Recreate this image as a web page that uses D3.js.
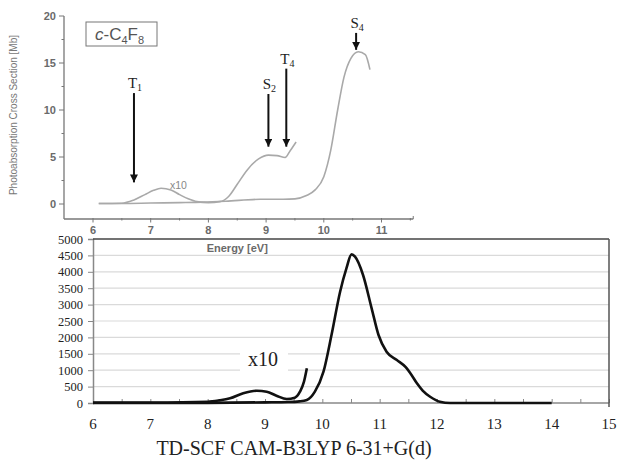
<!DOCTYPE html>
<html>
<head>
<meta charset="utf-8">
<script src="https://cdn.jsdelivr.net/npm/d3@7"></script>
<style>
  body { margin: 0; background: white; }
  .serif { font-family: 'Liberation Serif', 'Times New Roman', serif; fill: #222; }
  .sans { font-family: 'Liberation Sans', Arial, sans-serif; fill: #6a6a6a; font-weight: bold; }
</style>
</head>
<body>
<svg id="chart" width="617" height="468"></svg>
<script>
var svg = d3.select('#chart');

// upper panel (measured spectrum), energy in eV / cross section in Mb
var expMainEnergy = [6.1, 6.5, 7.0, 7.5, 7.9, 8.3, 8.9, 9.3, 9.5, 9.7, 9.85, 10.0, 10.12, 10.24, 10.35, 10.47, 10.6, 10.72, 10.8];
var expMainValue  = [0.05, 0.05, 0.1, 0.15, 0.2, 0.3, 0.5, 0.5, 0.55, 0.9, 1.5, 2.9, 5.7, 10, 13.5, 15.5, 16.2, 15.9, 14.3];
var expX10Energy  = [6.1, 6.5, 6.7, 6.9, 7.05, 7.18, 7.35, 7.5, 7.65, 7.8, 8.0, 8.2, 8.35, 8.5, 8.67, 8.87, 9.04, 9.19, 9.33, 9.42, 9.52];
var expX10Value   = [0.05, 0.08, 0.4, 1.0, 1.45, 1.67, 1.5, 1.0, 0.55, 0.25, 0.15, 0.25, 0.8, 2.1, 3.6, 4.8, 5.2, 5.15, 4.95, 5.7, 6.6];
var expTicksX = [6, 7, 8, 9, 10, 11];
var expTicksY = [0, 5, 10, 15, 20];

// transitions marked with arrows
var arrowNames  = ['T', 'S', 'T', 'S'];
var arrowSubs   = ['1', '2', '4', '4'];
var arrowEnergy = [6.71, 9.04, 9.35, 10.56];
var arrowTop    = [11.8, 11.7, 14.4, 18.2];
var arrowTip    = [2.3, 6.1, 6.1, 16.4];

// lower panel (TD-SCF CAM-B3LYP)
var calcMainEnergy = [6, 7, 8, 9, 9.4, 9.6, 9.73, 9.87, 10.02, 10.16, 10.31, 10.42, 10.51, 10.57, 10.71, 10.86, 10.98, 11.12, 11.3, 11.45, 11.55, 11.65, 11.75, 11.88, 12.05, 12.23, 13, 14];
var calcMainValue  = [0, 0, 5, 20, 30, 50, 91, 345, 955, 2073, 3394, 4107, 4530, 4460, 3902, 2887, 2073, 1564, 1311, 1100, 870, 600, 380, 192, 40, 0, 0, 0];
var calcX10Energy  = [6, 7, 8, 8.2, 8.39, 8.62, 8.86, 9.03, 9.2, 9.38, 9.52, 9.61, 9.68, 9.73];
var calcX10Value   = [10, 15, 40, 80, 143, 296, 375, 345, 223, 122, 162, 345, 650, 1058];
var calcTicksX = [6, 7, 8, 9, 10, 11, 12, 13, 14, 15];
var calcTicksY = [0, 500, 1000, 1500, 2000, 2500, 3000, 3500, 4000, 4500, 5000];

function series(xs, ys) {
  return xs.map((x, i) => [x, ys[i]]);
}

// ---------- lower panel ----------
var xB = d3.scaleLinear().domain([6, 15]).range([93, 609]);
var yB = d3.scaleLinear().domain([0, 5000]).range([403, 239]);

svg.append('g')
  .selectAll('line')
  .data(calcTicksY.slice(1, -1))
  .enter()
  .append('line')
    .attr('x1', xB(6))
    .attr('x2', xB(15))
    .attr('y1', d => yB(d))
    .attr('y2', d => yB(d))
    .attr('stroke', '#dadada')
    .attr('stroke-width', 1.2);

var yAxisB = svg.append('g')
  .attr('transform', `translate(${xB(6)},0)`)
  .call(d3.axisLeft(yB).tickValues(calcTicksY).tickFormat(d3.format('d')).tickSize(5).tickPadding(5));
yAxisB.select('.domain').attr('stroke', '#888').attr('stroke-width', 1.5);
yAxisB.selectAll('.tick line').attr('stroke', '#888');
yAxisB.selectAll('text')
  .attr('class', 'serif')
  .style('font-size', '12.5px');

var xAxisB = svg.append('g')
  .attr('transform', `translate(0,${yB(0)})`)
  .call(d3.axisTop(xB).ticks(18).tickSize(4).tickFormat(''));
xAxisB.select('.domain').remove();
xAxisB.selectAll('.tick line').attr('stroke', '#888');

svg.append('g')
  .selectAll('text')
  .data(calcTicksX)
  .enter()
  .append('text')
    .classed('serif', true)
    .attr('x', d => xB(d))
    .attr('y', 429)
    .attr('text-anchor', 'middle')
    .style('font-size', '15px')
    .text(d => d);

svg.append('line')
  .attr('x1', xB(6)).attr('x2', xB(15))
  .attr('y1', yB(0)).attr('y2', yB(0))
  .attr('stroke', '#888').attr('stroke-width', 1.5);
svg.append('line')
  .attr('x1', xB(6)).attr('x2', xB(15))
  .attr('y1', yB(5000)).attr('y2', yB(5000))
  .attr('stroke', '#444').attr('stroke-width', 1.5);
svg.append('line')
  .attr('x1', xB(15)).attr('x2', xB(15))
  .attr('y1', yB(5000)).attr('y2', yB(0) + 4)
  .attr('stroke', '#555').attr('stroke-width', 1.5);

var lineB = d3.line()
  .x(d => xB(d[0]))
  .y(d => yB(d[1]))
  .curve(d3.curveMonotoneX);

// label box for the x10 trace
svg.append('rect')
  .attr('x', 240).attr('y', 343)
  .attr('width', 48).attr('height', 30)
  .attr('fill', 'white');
svg.append('text')
  .classed('serif', true)
  .attr('x', 248)
  .attr('y', 366)
  .style('font-size', '20px')
  .text('x10');

svg.append('path')
  .datum(series(calcX10Energy, calcX10Value))
  .attr('d', lineB)
  .attr('fill', 'none')
  .attr('stroke', '#111')
  .attr('stroke-width', 2.6);

svg.append('path')
  .datum(series(calcMainEnergy, calcMainValue))
  .attr('d', lineB)
  .attr('fill', 'none')
  .attr('stroke', '#111')
  .attr('stroke-width', 2.6);

svg.append('text')
  .classed('serif', true)
  .attr('x', 294)
  .attr('y', 455)
  .attr('text-anchor', 'middle')
  .style('font-size', '20px')
  .text('TD-SCF CAM-B3LYP 6-31+G(d)');

// ---------- upper panel ----------
var xT = d3.scaleLinear().domain([6, 11]).range([93, 381.5]);
var yT = d3.scaleLinear().domain([0, 20]).range([204, 16]);
var axisY = 219;

svg.append('line')
  .attr('x1', 64).attr('x2', xT(11.55))
  .attr('y1', axisY).attr('y2', axisY)
  .attr('stroke', '#777').attr('stroke-width', 1.3);
svg.append('line')
  .attr('x1', 64).attr('x2', 64)
  .attr('y1', yT(20)).attr('y2', axisY)
  .attr('stroke', '#777').attr('stroke-width', 1.3);

svg.append('g')
  .selectAll('line')
  .data(d3.range(6, 11.51, 0.5))
  .enter()
  .append('line')
    .attr('x1', d => xT(d)).attr('x2', d => xT(d))
    .attr('y1', axisY - 1)
    .attr('y2', d => axisY + (d % 1 ? 1.5 : 3.5))
    .attr('stroke', '#777');
svg.append('line')
  .attr('x1', xT(11.55)).attr('x2', xT(11.55))
  .attr('y1', axisY - 3).attr('y2', axisY)
  .attr('stroke', '#777');

svg.append('g')
  .selectAll('line')
  .data(d3.range(0, 20.1, 2.5))
  .enter()
  .append('line')
    .attr('x1', d => 64 - (d % 5 ? 2.5 : 5)).attr('x2', 64)
    .attr('y1', d => yT(d)).attr('y2', d => yT(d))
    .attr('stroke', '#777');

svg.append('g')
  .selectAll('text')
  .data(expTicksY)
  .enter()
  .append('text')
    .classed('sans', true)
    .attr('x', 56)
    .attr('y', d => yT(d) + 4)
    .attr('text-anchor', 'end')
    .style('font-size', '11px')
    .text(d => d);

svg.append('g')
  .selectAll('text')
  .data(expTicksX)
  .enter()
  .append('text')
    .classed('sans', true)
    .attr('x', d => xT(d))
    .attr('y', 234)
    .attr('text-anchor', 'middle')
    .style('font-size', '11px')
    .text(d => d);

svg.append('text')
  .classed('sans', true)
  .attr('x', xT(8.5))
  .attr('y', 252)
  .attr('text-anchor', 'middle')
  .style('font-size', '11px')
  .text('Energy [eV]');

svg.append('text')
  .attr('transform', 'translate(17,115) rotate(-90)')
  .attr('text-anchor', 'middle')
  .style('font-family', "'Liberation Sans', Arial, sans-serif")
  .style('font-size', '10px')
  .style('fill', '#777')
  .text('Photoabsorption Cross Section [Mb]');

var lineT = d3.line()
  .x(d => xT(d[0]))
  .y(d => yT(d[1]))
  .curve(d3.curveMonotoneX);

svg.append('path')
  .datum(series(expMainEnergy, expMainValue))
  .attr('d', lineT)
  .attr('fill', 'none')
  .attr('stroke', '#a9a9a9')
  .attr('stroke-width', 1.6);

svg.append('path')
  .datum(series(expX10Energy, expX10Value))
  .attr('d', lineT)
  .attr('fill', 'none')
  .attr('stroke', '#a9a9a9')
  .attr('stroke-width', 1.6);

svg.append('text')
  .classed('sans', true)
  .attr('x', 170)
  .attr('y', 189)
  .style('font-size', '10.5px')
  .style('font-weight', 'normal')
  .style('fill', '#888')
  .text('x10');

// legend box
svg.append('rect')
  .attr('x', 86).attr('y', 22)
  .attr('width', 71).attr('height', 24)
  .attr('fill', 'white')
  .attr('stroke', '#777');
var leg = svg.append('text')
  .attr('x', 95)
  .attr('y', 40)
  .style('font-family', "'Liberation Sans', Arial, sans-serif")
  .style('font-size', '17px')
  .style('fill', '#555');
leg.append('tspan').style('font-style', 'italic').text('c');
leg.append('tspan').text('-C');
leg.append('tspan').attr('dy', 4).style('font-size', '11px').text('4');
leg.append('tspan').attr('dy', -4).text('F');
leg.append('tspan').attr('dy', 4).style('font-size', '11px').text('8');

// arrows
svg.append('defs')
  .append('marker')
    .attr('id', 'head')
    .attr('viewBox', '0 0 10 10')
    .attr('refX', 10).attr('refY', 5)
    .attr('markerWidth', 4).attr('markerHeight', 4)
    .attr('orient', 'auto')
  .append('path')
    .attr('d', 'M0,0L10,5L0,10Z')
    .attr('fill', '#111');

arrowEnergy.forEach((e, i) => {
  svg.append('line')
    .attr('x1', xT(e)).attr('x2', xT(e))
    .attr('y1', yT(arrowTop[i])).attr('y2', yT(arrowTip[i]))
    .attr('stroke', '#111')
    .attr('stroke-width', 2)
    .attr('marker-end', 'url(#head)');

  var t = svg.append('text')
    .classed('serif', true)
    .attr('x', xT(e) + 1)
    .attr('y', yT(arrowTop[i]) - 5)
    .attr('text-anchor', 'middle')
    .style('font-size', '15px');
  t.append('tspan').text(arrowNames[i]);
  t.append('tspan').attr('dy', 3).style('font-size', '10px').text(arrowSubs[i]);
});
</script>
</body>
</html>
